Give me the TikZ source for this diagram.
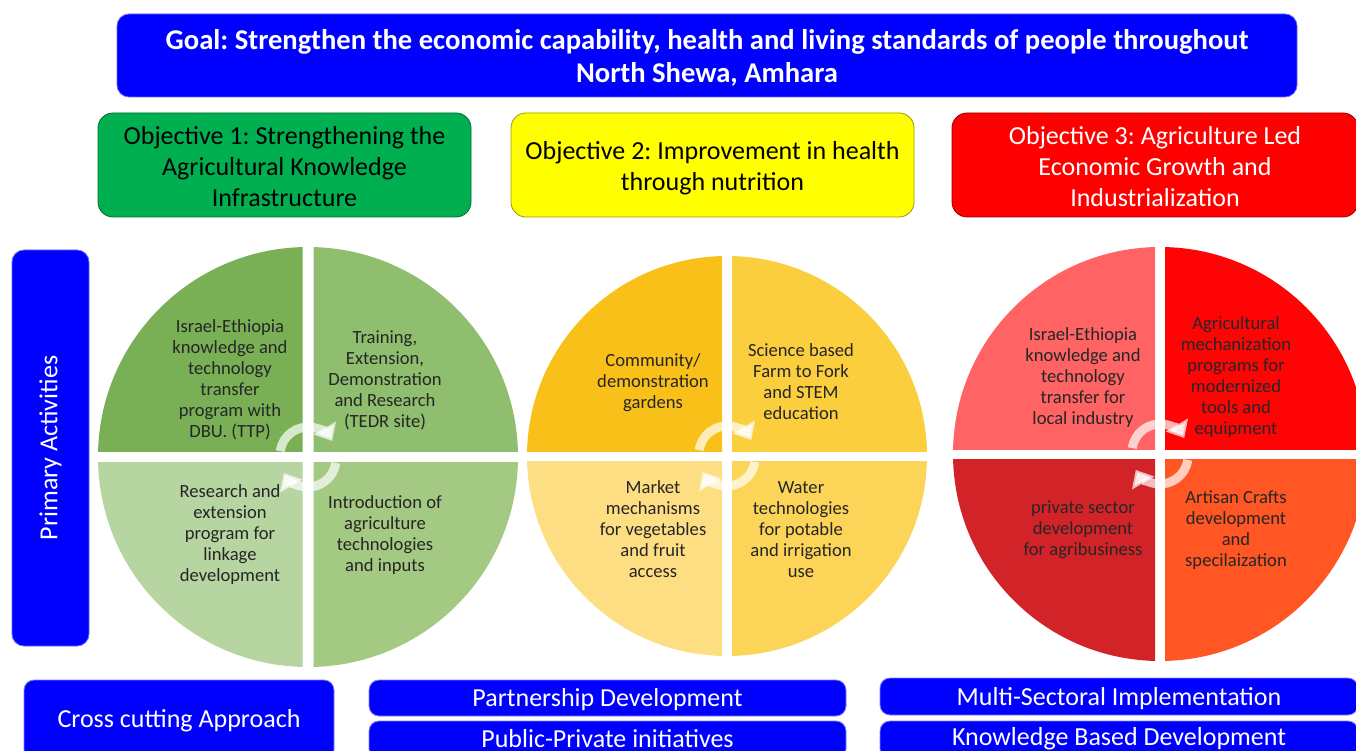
\documentclass[tikz,border=0pt]{standalone}
\usepackage{fontspec}
\setmainfont{Carlito}
\usetikzlibrary{arrows.meta}
\frenchspacing
\definecolor{gblue}{RGB}{0,0,255}
\definecolor{ogreen}{RGB}{0,176,80}
\definecolor{oyellow}{RGB}{255,255,0}
\definecolor{ored}{RGB}{255,0,0}
\definecolor{gA}{RGB}{122,176,85}
\definecolor{gB}{RGB}{142,190,110}
\definecolor{gC}{RGB}{164,201,131}
\definecolor{gD}{RGB}{182,213,161}
\definecolor{yA}{RGB}{249,192,26}
\definecolor{yB}{RGB}{251,206,62}
\definecolor{yC}{RGB}{252,212,88}
\definecolor{yD}{RGB}{253,222,130}
\definecolor{rA}{RGB}{255,99,99}
\definecolor{rB}{RGB}{254,4,4}
\definecolor{rC}{RGB}{255,86,35}
\definecolor{rD}{RGB}{210,36,40}
\tikzset{
  bluebox/.style={fill=gblue, draw=gblue!60!white, line width=0.8pt, rounded corners=12pt, text=white, align=center, inner sep=0pt},
  objbox/.style={rounded corners=15pt, line width=0.8pt, inner sep=0pt, minimum height=104},
  objtext/.style={align=center, inner sep=0pt, font=\fontsize{26}{31}\selectfont},
  lowbox/.style={fill=gblue, draw=gblue!50!white, line width=0.8pt, rounded corners=10pt, inner sep=0pt},
  lowtext/.style={text=white, font=\fontsize{26}{30}\selectfont, inner sep=0pt},
  ctext/.style={align=center, font=\fontsize{18.6}{21}\selectfont, text=black!85, inner sep=0pt},
  cyc/.style={line width=9pt, draw=white, opacity=0.7, -{Triangle[length=15pt,width=25pt]}}
}
\newcommand{\quads}[8]{% cx cy r colTL colTR colBR colBL gap
  \begin{scope}
    \clip (#1-#3-2,#2-#3-2) rectangle (#1-#8/2,#2-#8/2);
    \fill[#4] (#1,#2) circle (#3);
  \end{scope}
  \begin{scope}
    \clip (#1+#8/2,#2-#3-2) rectangle (#1+#3+2,#2-#8/2);
    \fill[#5] (#1,#2) circle (#3);
  \end{scope}
  \begin{scope}
    \clip (#1+#8/2,#2+#8/2) rectangle (#1+#3+2,#2+#3+2);
    \fill[#6] (#1,#2) circle (#3);
  \end{scope}
  \begin{scope}
    \clip (#1-#3-2,#2+#8/2) rectangle (#1-#8/2,#2+#3+2);
    \fill[#7] (#1,#2) circle (#3);
  \end{scope}
  \draw[cyc] (#1,#2-2) ++(-172:28) arc[start angle=-172, end angle=-30, radius=28];
  \draw[cyc] (#1,#2+2) ++(8:28) arc[start angle=8, end angle=150, radius=28];
}
\begin{document}
\begin{tikzpicture}[x=1pt,y=-1pt]
\useasboundingbox (0,0) rectangle (1356,751);
\clip (0,0) rectangle (1356,751);
\fill[white] (0,0) rectangle (1356,751);

% Goal
\node[bluebox, minimum width=1180, minimum height=83] (goal) at (707,55.5) {};
\node[align=center, text=white, inner sep=0pt, font=\bfseries\fontsize{28.6}{33}\selectfont] (goalt) at (707,58)
  {Goal: Strengthen the economic capability, health and living standards of people throughout\\North Shewa, Amhara};

% Objectives
\node[objbox, fill=ogreen, draw=ogreen!60!black, minimum width=373] (obj1) at (284.5,165) {};
\node[objtext] (obj1t) at (284.5,167) {Objective 1: Strengthening the\\Agricultural Knowledge\\Infrastructure};
\node[objbox, fill=oyellow, draw=oyellow!60!black, minimum width=403] (obj2) at (712.5,165) {};
\node[objtext] (obj2t) at (712.5,168.5) {Objective 2: Improvement in health\\through nutrition};
\node[objbox, fill=ored, draw=ored!60!black, minimum width=406] (obj3) at (1155,165) {};
\node[objtext, text=white] (obj3t) at (1155,167) {Objective 3: Agriculture Led\\Economic Growth and\\Industrialization};

% Primary activities
\node[bluebox, minimum width=77, minimum height=396] (prim) at (50.5,448) {};
\node[text=white, rotate=90, font=\fontsize{26}{30}\selectfont, inner sep=0pt] (primt) at (prim.center) {Primary Activities};

% Circle 1
\quads{308}{457}{210}{gA}{gB}{gC}{gD}{11}
\node[ctext] (c1a) at (230,380) {Israel-Ethiopia\\knowledge and\\technology\\transfer\\program with\\DBU. (TTP)};
\node[ctext] (c1b) at (385,380) {Training,\\Extension,\\Demonstration\\and Research\\(TEDR site)};
\node[ctext] (c1c) at (230,535) {Research and\\extension\\program for\\linkage\\development};
\node[ctext] (c1d) at (385,535) {Introduction of\\agriculture\\technologies\\and inputs};

% Circle 2
\quads{727}{456}{200}{yA}{yB}{yC}{yD}{10}
\node[ctext] (c2a) at (653,382.5) {Community/\\demonstration\\gardens};
\node[ctext] (c2b) at (801,382) {Science based\\Farm to Fork\\and STEM\\education};
\node[ctext] (c2c) at (653,529.5) {Market\\mechanisms\\for vegetables\\and fruit\\access};
\node[ctext] (c2d) at (801,529.5) {Water\\technologies\\for potable\\and irrigation\\use};

% Circle 3
\quads{1160}{454}{207}{rA}{rB}{rC}{rD}{10}
\node[ctext] (c3a) at (1083,378) {Israel-Ethiopia\\knowledge and\\technology\\transfer for\\local industry};
\node[ctext] (c3b) at (1236,377.5) {Agricultural\\mechanization\\programs for\\modernized\\tools and\\equipment};
\node[ctext] (c3c) at (1083,529.5) {private sector\\development\\for agribusiness};
\node[ctext] (c3d) at (1236,530) {Artisan Crafts\\development\\and\\specilaization};

% Bottom boxes
\node[lowbox, minimum width=310, minimum height=80] (cross) at (179,720) {};
\node[lowtext] (crosst) at (179,720.5) {Cross cutting Approach};
\node[lowbox, minimum width=477, minimum height=36] (part) at (607.5,698) {};
\node[lowtext] (partt) at (607.5,699.5) {Partnership Development};
\node[lowbox, minimum width=477, minimum height=38] (pub) at (607.5,740) {};
\node[lowtext] (pubt) at (607.5,738.5) {Public-Private initiatives};
\node[lowbox, minimum width=478, minimum height=37] (multi) at (1119,696.5) {};
\node[lowtext] (multit) at (1119,698.5) {Multi-Sectoral Implementation};
\node[lowbox, minimum width=478, minimum height=38] (know) at (1119,740) {};
\node[lowtext] (knowt) at (1119,739) {Knowledge Based Development};
\end{tikzpicture}
\end{document}
